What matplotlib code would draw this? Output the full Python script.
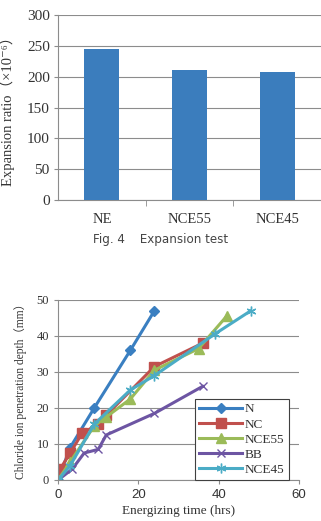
import numpy as np
import matplotlib.pyplot as plt

plt.rcParams['font.family'] = ['Liberation Serif', 'Noto Sans CJK SC', 'DejaVu Serif']

# Fig. 4 data: expansion ratio
bar_labels = ['NE', 'NCE55', 'NCE45']
bar_values = [245, 211, 208]

# Fig. 5 data: chloride ion penetration depth vs energizing time
n_x = [0, 3, 9, 18, 24]
n_y = [0, 9, 20, 36, 47]
nc_x = [0.5, 3, 6, 10, 12, 24, 36]
nc_y = [3, 7.5, 13, 15.5, 18, 31.5, 38]
nce55_x = [0, 3, 9, 12, 18, 24, 35, 42]
nce55_y = [0, 5, 15, 17.5, 22.5, 30.5, 36.5, 45.5]
bb_x = [0, 3.5, 6.5, 10, 12, 24, 36]
bb_y = [0, 3, 7.5, 8.5, 12.5, 18.5, 26]
nce45_x = [0, 3, 9, 18, 24, 39, 48]
nce45_y = [0, 4, 15.5, 25, 29, 40.5, 47]

txt = '#333333'
grid_c = '#8c8c8c'
W, H = 321, 521

fig = plt.figure(figsize=(3.21, 5.21), dpi=100)

# ---- top: bar chart
ax1 = fig.add_axes([0.181, 0.616, 0.819, 0.355])
pos = np.arange(len(bar_labels))
ax1.bar(pos, bar_values, width=0.4, color='#3b7dbd', zorder=3)
ax1.set_xlim(-0.5, 2.5)
ax1.set_ylim(0, 300)
ax1.set_yticks(range(0, 301, 50))
ax1.set_xticks(pos)
ax1.set_xticklabels(bar_labels)
ax1.set_xticks([0.5, 1.5], minor=True)
ax1.tick_params(axis='x', which='major', length=0, pad=9, labelsize=10.5, colors=txt)
ax1.tick_params(axis='x', which='minor', length=4, color=grid_c)
ax1.tick_params(axis='y', length=3, color=grid_c, labelsize=11, labelcolor=txt, pad=3)
ax1.grid(axis='y', color=grid_c, lw=0.8, zorder=0)
for s in ['top', 'right']:
    ax1.spines[s].set_visible(False)
for s in ['left', 'bottom']:
    ax1.spines[s].set_color(grid_c)
fig.text(15 / W, 1 - 186 / H, 'Expansion ratio（×10⁻⁶）', rotation=90,
         ha='right', va='bottom', fontsize=10.5, color=txt)

fig.text(0.5, 1 - 240 / H, 'Fig. 4    Expansion test', ha='center', va='center',
         fontsize=8.6, color='#444444', family='DejaVu Sans')

# ---- bottom: line chart
ax2 = fig.add_axes([0.181, 0.0787, 0.75, 0.3455])
ax2.plot(n_x, n_y, color='#3a7fc1', lw=2.2, marker='D', ms=5, label='N')
ax2.plot(nc_x, nc_y, color='#c0504d', lw=2.2, marker='s', ms=7, label='NC')
ax2.plot(nce55_x, nce55_y, color='#9bbb59', lw=2.2, marker='^', ms=7, label='NCE55')
ax2.plot(bb_x, bb_y, color='#6d55a3', lw=2.2, marker='x', ms=6, mew=1, label='BB')
ax2.plot(nce45_x, nce45_y, color='#4bacc6', lw=2.2, marker=(6, 2, 0), ms=7, mew=1, label='NCE45')
ax2.set_xlim(0, 60)
ax2.set_ylim(0, 50)
ax2.set_xticks(range(0, 61, 20))
ax2.set_yticks(range(0, 51, 10))
ax2.tick_params(length=3, color=grid_c, labelcolor=txt)
ax2.tick_params(axis='y', labelsize=9)
ax2.tick_params(axis='x', labelsize=9.5)
for lab in ax2.get_xticklabels():
    lab.set_family('Liberation Sans')
ax2.grid(axis='y', color=grid_c, lw=0.8, zorder=0)
for s in ['top', 'right']:
    ax2.spines[s].set_visible(False)
for s in ['left', 'bottom']:
    ax2.spines[s].set_color(grid_c)
ax2.set_xlabel('Energizing time (hrs)', fontsize=9.5, color=txt, labelpad=3)
fig.text(27 / W, 1 - 388 / H, 'Chloride ion penetration depth（mm）', rotation=90,
         ha='right', va='center', fontsize=8.3, color=txt)
leg = ax2.legend(loc='lower left', bbox_to_anchor=(0.568, 0.0), borderaxespad=0,
                 fancybox=False, framealpha=1, edgecolor='#404040', fontsize=9.5,
                 handlelength=3.3, labelspacing=0.22, handletextpad=0.2,
                 borderpad=0.3)
leg.get_frame().set_linewidth(0.8)
for t in leg.get_texts():
    t.set_color(txt)

fig.savefig('out.png', dpi=100)
